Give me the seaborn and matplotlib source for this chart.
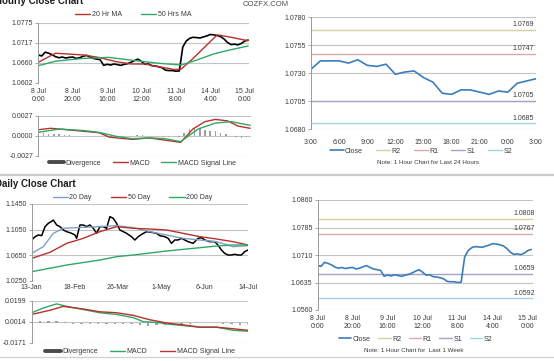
import matplotlib
matplotlib.use("Agg")
import matplotlib.pyplot as plt
import seaborn as sns
from matplotlib.lines import Line2D

sns.set_theme(style="white")
plt.rcParams['font.family'] = ['Liberation Sans', 'DejaVu Sans']

# ---------------- data ----------------
# hourly close (every 2 hours, index = trading hours since 8 Jul 0:00)
h_x = list(range(0, 123, 2))
h_close = [1.0682, 1.0679, 1.0690, 1.0687, 1.0683, 1.0677, 1.0674, 1.0676, 1.0673, 1.0675,
           1.0676, 1.0672, 1.0674, 1.0678, 1.0681, 1.0676, 1.0672, 1.0670, 1.0668, 1.0652,
           1.0655, 1.0653, 1.0656, 1.0654, 1.0652, 1.0655, 1.0657, 1.0661, 1.0666, 1.0670,
           1.0663, 1.0655, 1.0656, 1.0651, 1.0650, 1.0648, 1.0645, 1.0638, 1.0637, 1.0637,
           1.0635, 1.0636, 1.0705, 1.0722, 1.0730, 1.0733, 1.0732, 1.0731, 1.0734, 1.0737,
           1.0741, 1.0740, 1.0738, 1.0735, 1.0728, 1.0718, 1.0712, 1.0713, 1.0711, 1.0715,
           1.0722, 1.0725]
ma20h_x = [0, 10, 26, 35, 45, 54, 62, 70, 79, 83, 90, 97, 104, 112, 122]
ma20h = [1.0661, 1.0687, 1.0682, 1.0675, 1.0663, 1.0656, 1.0656, 1.0648, 1.0640, 1.0641,
         1.0672, 1.0706, 1.0740, 1.0733, 1.0723]
ma50h_x = [0, 10, 26, 41, 54, 70, 83, 92, 102, 111, 122]
ma50h = [1.0651, 1.0664, 1.0672, 1.0675, 1.0667, 1.0658, 1.0653, 1.0667, 1.0685, 1.0696, 1.0708]
h_ticks = [0, 20, 40, 60, 80, 100, 120]
h_labels = ["8 Jul\n0:00", "8 Jul\n20:00", "9 Jul\n16:00", "10 Jul\n12:00",
            "11 Jul\n8:00", "14 Jul\n4:00", "15 Jul\n0:00"]

macdh_x = [0, 7, 12, 26, 35, 41, 54, 64, 73, 82, 89, 96, 102, 109, 115, 122]
macdh = [0.0008, 0.0010, 0.0009, 0.0006, 0.0004, -0.0002, -0.0005, -0.0003, -0.0006, -0.0009,
         0.0009, 0.0019, 0.0022, 0.0020, 0.0013, 0.0010]
sigh_x = [0, 12, 26, 35, 45, 54, 64, 73, 82, 92, 102, 111, 122]
sigh = [0.00045, 0.0009, 0.0007, 0.00045, -0.0001, -0.0004, -0.0003, -0.0004, -0.0008,
        0.0009, 0.0017, 0.0019, 0.0014]
divh_x = list(range(0, 121, 3))
divh = [0.0003, 0.0003, 0.0002, 0.0002, 0.0002, 0.0001, 0.0001, 0.0000, -0.0001, -0.0001,
        -0.0001, -0.0001, -0.0001, -0.0001, -0.0002, -0.0002, -0.0001, -0.0001, 0.0000, 0.0001,
        0.0001, 0.0000, -0.0001, -0.0001, -0.0002, -0.0002, -0.0001, -0.0002, 0.0004, 0.0009,
        0.0011, 0.0010, 0.0008, 0.0007, 0.0006, 0.0004, 0.0002, 0.0000, -0.0002, -0.0003,
        -0.0002]

# last 24 hours
t_x = list(range(0, 25))
t_close = [1.07335, 1.0741, 1.0741, 1.0741, 1.0739, 1.0742, 1.0737, 1.0736, 1.0738, 1.0729,
           1.0731, 1.0732, 1.0726, 1.0722, 1.0712, 1.0711, 1.0715, 1.0715, 1.0713, 1.0711,
           1.0714, 1.0713, 1.0721, 1.0723, 1.0725]
t_labels = ["3:00", "6:00", "9:00", "12:00", "15:00", "18:00", "21:00", "0:00", "3:00"]
pivot_names = ["R2", "R1", "S1", "S2"]
pivot_day = [1.0769, 1.0747, 1.0705, 1.0685]
pivot_week = [1.0808, 1.0767, 1.0659, 1.0592]

# daily
d_close_x = [0, 2, 4, 6, 8, 10, 12, 13, 15, 17, 19, 21, 24, 26, 27, 29, 31, 33, 35, 37,
             39, 41, 43, 45, 47, 49, 51, 53, 55, 57, 60, 62, 64, 66, 69, 72, 75, 77, 80, 82,
             84, 86, 88, 90, 92, 94, 97, 100, 102, 104, 107, 110, 112, 114, 116, 118, 120, 122,
             124, 126, 128, 130]
d_close = [1.0889, 1.0940, 1.0967, 1.0957, 1.1097, 1.1149, 1.1180, 1.1200, 1.1123, 1.1097,
           1.1045, 1.1019, 1.0993, 1.0967, 1.0915, 1.1123, 1.1123, 1.1097, 1.1123, 1.1071,
           1.0993, 1.1097, 1.1097, 1.1070, 1.1253, 1.1227, 1.1149, 1.1045, 1.1019, 1.0993,
           1.0940, 1.0889, 1.0940, 1.0976, 1.1019, 1.1008, 1.0993, 1.0957, 1.0940, 1.0915,
           1.0837, 1.0889, 1.0889, 1.0915, 1.0889, 1.0863, 1.0837, 1.0915, 1.0925, 1.0889,
           1.0863, 1.0863, 1.0810, 1.0733, 1.0681, 1.0655, 1.0655, 1.0666, 1.0655, 1.0655,
           1.0707, 1.0733]
ma_d_x = [0, 7, 13, 19, 27, 41, 51, 61, 71, 81, 91, 101, 111, 121, 130]
ma20d = [1.0681, 1.0785, 1.0993, 1.1071, 1.1081, 1.1097, 1.1112, 1.1081, 1.1019, 1.0967,
         1.0915, 1.0889, 1.0863, 1.0785, 1.0801]
ma50d_x = [0, 11, 21, 31, 41, 51, 61, 71, 81, 91, 101, 111, 121, 130]
ma50d = [1.0603, 1.0697, 1.0837, 1.0915, 1.1019, 1.1097, 1.1071, 1.1060, 1.1045, 1.0993,
         1.0941, 1.0905, 1.0863, 1.0811]
ma200d_x = [0, 21, 41, 51, 61, 81, 101, 111, 121, 130]
ma200d = [1.0395, 1.0499, 1.0577, 1.0629, 1.0655, 1.0717, 1.0769, 1.0795, 1.0811, 1.0811]
d_ticks = [0, 26, 52, 78, 104, 130]
d_labels = ["13-Jan", "18-Feb", "26-Mar", "1-May", "6-Jun", "14-Jul"]

macdd_x = [0, 7, 15, 21, 31, 41, 51, 61, 67, 75, 81, 91, 101, 111, 121, 130]
macdd = [0.0093, 0.0135, 0.0171, 0.0149, 0.0121, 0.0093, 0.0078, 0.0050, 0.0014, 0.0008,
         -0.0006, -0.0020, -0.0034, -0.0034, -0.0062, -0.0070]
sigd_x = [0, 11, 19, 31, 41, 51, 61, 71, 81, 91, 101, 111, 121, 130]
sigd = [0.0078, 0.0115, 0.0149, 0.0126, 0.0101, 0.0093, 0.0070, 0.0031, 0.0003, -0.0014,
        -0.0034, -0.0034, -0.0048, -0.0062]
divd_x = list(range(0, 131, 5))
divd = [0.0015, 0.0018, 0.0020, 0.0018, 0.0012, -0.0003, -0.0005, -0.0006, -0.0005, -0.0006,
        -0.0004, -0.0003, -0.0008, -0.0015, -0.0020, -0.0018, -0.0012, -0.0009, -0.0007, -0.0006,
        0.0000, 0.0001, 0.0000, -0.0004, -0.0010, -0.0012, -0.0008]

# ---------------- styling ----------------
W, H = 554, 361
fig = plt.figure(figsize=(W / 100, H / 100), dpi=100)
fig.patch.set_facecolor('white')

TXT = '#3a3a3a'
GRID = '#c4c4c4'
AXC = '#9a9a9a'
RED = '#b8312a'
GREEN = '#2fa866'
BLUE = '#3b7dbb'
LBLUE = '#7f9fc8'
DIVC = '#a0a0a0'
PIV_COL = ['#d4d0a0', '#dcaaaa', '#a5a2c4', '#9fd6e2']
FS = 5


def add_ax(x0, y0, x1, y1):
    return fig.add_axes([x0 / W, 1 - y1 / H, (x1 - x0) / W, (y1 - y0) / H])


def base_style(ax, yticks, ylim, xlim, grid=True):
    ax.set_xlim(*xlim)
    ax.set_ylim(*ylim)
    ax.set_yticks(yticks)
    ax.set_yticklabels([f"{v:.4f}" for v in yticks])
    for s in ['top', 'right', 'bottom']:
        ax.spines[s].set_visible(False)
    ax.spines['left'].set_color(AXC)
    ax.spines['left'].set_linewidth(0.7)
    ax.yaxis.grid(grid, color=GRID, lw=0.8)
    ax.xaxis.grid(False)
    ax.set_axisbelow(True)
    ax.tick_params(axis='y', left=True, length=2.5, width=0.6, color=AXC,
                   labelsize=FS, labelcolor=TXT, pad=1.2)
    ax.tick_params(axis='x', bottom=False, length=0, labelsize=FS, labelcolor=TXT)
    ax.set_xlabel('')
    ax.set_ylabel('')
    ax.patch.set_alpha(0)


def legend(ax, handles, labels, cx, cy, colsp=3.0, hl=2.2):
    ax.legend(handles, labels, ncol=len(handles), loc='center',
              bbox_to_anchor=(cx / W, 1 - cy / H), bbox_transform=fig.transFigure,
              frameon=False, fontsize=FS, handlelength=hl, handletextpad=0.2,
              columnspacing=colsp, borderpad=0, borderaxespad=0, labelcolor=TXT)


def line(ax, x, y, color, lw):
    sns.lineplot(x=x, y=y, ax=ax, color=color, lw=lw, legend=False)
    return ax.lines[-1]


# ---------------- Hourly close chart ----------------
ax1 = add_ax(38.3, 22.7, 249, 82.7)
l_close = line(ax1, h_x, h_close, 'black', 1.2)
l20 = line(ax1, ma20h_x, ma20h, RED, 1.0)
l50 = line(ax1, ma50h_x, ma50h, GREEN, 1.0)
base_style(ax1, [1.0602, 1.0660, 1.0717, 1.0775], (1.0602, 1.0775), (0, 122.5))
ax1.set_yticklabels(["1.0602", "1.0660", "1.0717", "1.0775"])
ax1.set_xticks(h_ticks)
ax1.set_xticklabels(h_labels, linespacing=1.25)
ax1.tick_params(axis='x', pad=3.5)
legend(ax1, [l20, l50], ["20 Hr MA", "50 Hrs MA"], 133, 14.7, colsp=2.8)

# hourly MACD
ax2 = add_ax(38.3, 115.7, 251, 155.7)
ax2.bar(divh_x, divh, width=0.9, color=DIVC, lw=0)
m1 = line(ax2, macdh_x, macdh, RED, 1.0)
s1 = line(ax2, sigh_x, sigh, GREEN, 1.0)
base_style(ax2, [-0.0027, 0.0000, 0.0027], (-0.0027, 0.0027), (0, 122.5))
ax2.set_xticks([])
div_handle = Line2D([], [], color='#4a4a4a', lw=2.8)
legend(ax2, [div_handle, m1, s1], ["Divergence", "MACD", "MACD Signal Line"], 142.5, 163.3,
       colsp=1.6)

# ---------------- last 24 hours pivot chart ----------------
ax3 = add_ax(311, 17.3, 536, 129)
lc3 = line(ax3, t_x, t_close, BLUE, 1.2)
hs3 = []
for name, lev, c in zip(pivot_names, pivot_day, PIV_COL):
    hs3.append(ax3.axhline(lev, color=c, lw=1.0, zorder=1))
    ax3.annotate(f"{lev:.4f}", xy=(23.8, lev), xytext=(0, 1.2), textcoords='offset points',
                 ha='right', va='bottom', fontsize=FS, color=TXT)
base_style(ax3, [1.0680, 1.0705, 1.0730, 1.0755, 1.0780], (1.0680, 1.0780), (0, 24), grid=False)
ax3.set_xticks(list(range(0, 25, 3)))
ax3.set_xticklabels(t_labels)
ax3.tick_params(axis='x', pad=7)
legend(ax3, [lc3] + hs3, ["Close"] + pivot_names, 421, 151.3, colsp=1.9, hl=2.0)
fig.text(428 / W, 1 - 162.5 / H, "Note: 1 Hour Chart for Last 24 Hours", fontsize=4.5,
         color=TXT, ha='center', va='center')

# ---------------- Daily close chart ----------------
ax4 = add_ax(31.7, 204, 248, 281)
lcd = line(ax4, d_close_x, d_close, 'black', 1.1)
d20 = line(ax4, ma_d_x, ma20d, LBLUE, 1.0)
d50 = line(ax4, ma50d_x, ma50d, RED, 1.0)
d200 = line(ax4, ma200d_x, ma200d, GREEN, 1.0)
base_style(ax4, [1.0250, 1.0650, 1.1050, 1.1450], (1.0250, 1.1450), (0, 130))
ax4.set_xticks(d_ticks)
ax4.set_xticklabels(d_labels)
ax4.tick_params(axis='x', pad=2)
legend(ax4, [d20, d50, d200], ["20 Day", "50 Day", "200 Day"], 132.5, 197.7, colsp=2.8)

# daily MACD
ax5 = add_ax(31.7, 300.7, 248, 342.7)
ax5.bar(divd_x, divd, width=1.4, color=DIVC, lw=0)
dm = line(ax5, macdd_x, macdd, GREEN, 1.0)
ds = line(ax5, sigd_x, sigd, RED, 1.0)
base_style(ax5, [-0.0171, 0.0014, 0.0199], (-0.0171, 0.0199), (0, 130))
ax5.set_xticks([])
legend(ax5, [Line2D([], [], color='#4a4a4a', lw=2.8), dm, ds],
       ["Divergence", "MACD", "MACD Signal Line"], 140, 351.7, colsp=1.8)

# ---------------- last week pivot chart ----------------
ax6 = add_ax(317.5, 200, 533, 310)
lc6 = line(ax6, h_x, h_close, BLUE, 1.2)
hs6 = []
for name, lev, c in zip(pivot_names, pivot_week, PIV_COL):
    hs6.append(ax6.axhline(lev, color=c, lw=1.0, zorder=1))
    ax6.annotate(f"{lev:.4f}", xy=(123, lev), xytext=(1.5, 1.2), textcoords='offset points',
                 ha='right', va='bottom', fontsize=FS, color=TXT)
base_style(ax6, [1.0560, 1.0635, 1.0710, 1.0785, 1.0860], (1.0560, 1.0860), (0, 123),
           grid=False)
ax6.set_xticks(h_ticks)
ax6.set_xticklabels(h_labels, linespacing=1.25)
ax6.tick_params(axis='x', pad=3.5)
legend(ax6, [lc6] + hs6, ["Close"] + pivot_names, 415.5, 339.3, colsp=1.1, hl=1.8)
fig.text(414 / W, 1 - 351 / H, "Note: 1 Hour Chart for  Last 1 Week", fontsize=4.5,
         color=TXT, ha='center', va='center')

# ---------------- titles & separators ----------------
fig.text(-5 / W, 1 - 4.2 / H, "Hourly Close Chart", fontsize=7, fontweight='bold',
         color='#1e1e1e', ha='left', va='baseline')
fig.text(-5 / W, 1 - 187.3 / H, "Daily Close Chart", fontsize=7, fontweight='bold',
         color='#1e1e1e', ha='left', va='baseline')
fig.text(243 / W, 1 - 4.6 / H, "COZFX.COM", fontsize=5.6, color='#505050',
         ha='left', va='center')
fig.add_artist(Line2D([0, 1], [1 - 175.3 / H] * 2, transform=fig.transFigure,
                      color='#cccccc', lw=1.6))
fig.add_artist(Line2D([0, 1], [1 - 357 / H] * 2, transform=fig.transFigure,
                      color='#d2d2d2', lw=1.0))

fig.savefig("out.png", dpi=100, facecolor='white')
